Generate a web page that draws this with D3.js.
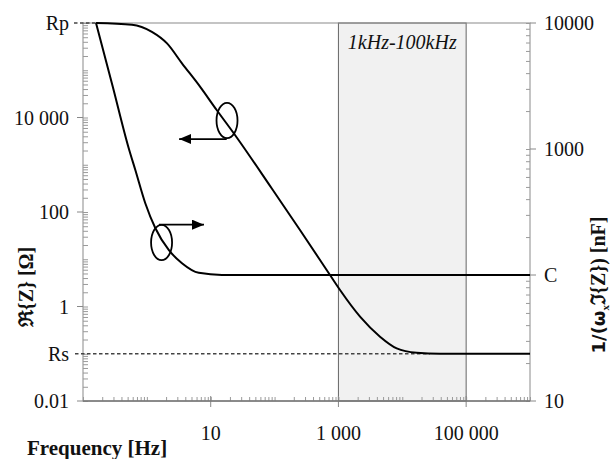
<!DOCTYPE html>
<html>
<head>
<meta charset="utf-8">
<script src="https://cdn.jsdelivr.net/npm/d3@7"></script>
<style>
  body { margin: 0; background: #fff; }
  svg { display: block; }
  text { font-family: "Liberation Serif", "DejaVu Serif", serif; fill: #111; }
</style>
</head>
<body>
<div id="chart"></div>
<script>
// Re{Z} curve (left axis)
const freqRe = [0.16, 0.585, 1.2, 2.07, 3.55, 6.8, 12.4, 24, 90, 250, 738, 1060, 2180, 4480, 8180, 16800, 39000, 1e6];
const realZ  = [1e6, 9.2e5, 6.5e5, 3.7e5, 1.4e5, 4.5e4, 1.44e4, 4270, 318, 41.6, 4.64, 2.23, 0.61, 0.23, 0.13, 0.105, 0.1, 0.1];

// capacitance curve (right axis, nF)
const freqC = [0.16, 0.29, 0.52, 0.66, 0.945, 1.36, 2.2, 3.55, 6.5, 15, 1e6];
const capC  = [10000, 3180, 1014, 681, 371, 235, 158, 124, 104, 100, 100];

// tick labels
const xTicks = [10, 1000, 100000];
const xLabels = ['10', '1 000', '100 000'];
const leftTicks = [1e6, 1e4, 100, 1, 0.1, 0.01];
const leftLabels = ['Rp', '10 000', '100', '1', 'Rs', '0.01'];
const rightTicks = [10000, 1000, 100, 10];
const rightLabels = ['10000', '1000', 'C', '10'];

const Rp = 1e6, Rs = 0.1;
const band = [1000, 100000];

// annotations (data coordinates)
const ellipses = [
  { f: 18, v: 8650 },
  { f: 1.7, v: 22.6 }
];
const arrows = [
  { f0: 17.8, f1: 3.2, v: 3500 },
  { f0: 1.55, f1: 7.85, v: 54 }
];

const W = 611, H = 459;
const L = 83, R = 530, T = 23, B = 401;

const svg = d3.select('#chart').append('svg')
  .attr('width', W).attr('height', H);

const x = d3.scaleLog().domain([0.1, 1e6]).range([L, R]);
const yL = d3.scaleLog().domain([0.01, 1e6]).range([B, T]);
const yR = d3.scaleLog().domain([10, 10000]).range([B, T]);

// 1kHz-100kHz band
svg.append('rect')
  .attr('x', x(band[0])).attr('y', T)
  .attr('width', x(band[1]) - x(band[0])).attr('height', B - T)
  .attr('fill', '#f1f1f1')
  .attr('stroke', '#666').attr('stroke-width', 1);

svg.append('text')
  .attr('x', (x(band[0]) + x(band[1])) / 2).attr('y', 49)
  .attr('text-anchor', 'middle')
  .style('font-style', 'italic')
  .style('font-size', '20px')
  .text('1kHz-100kHz');

// frame
svg.append('rect')
  .attr('x', L).attr('y', T).attr('width', R - L).attr('height', B - T)
  .attr('fill', 'none').attr('stroke', '#8a8a8a').attr('stroke-width', 1);

// minor ticks (inside)
const tickCol = '#9a9a9a';
const xg = svg.append('g').attr('transform', `translate(0,${B})`)
  .call(d3.axisBottom(x).tickValues(x.ticks()).tickSize(-4).tickFormat(''));
xg.select('.domain').remove();
xg.selectAll('line').attr('stroke', tickCol);

const lg = svg.append('g').attr('transform', `translate(${L},0)`)
  .call(d3.axisRight(yL).tickValues(yL.ticks()).tickSize(5).tickFormat(''));
lg.select('.domain').remove();
lg.selectAll('line').attr('stroke', tickCol);

const rg = svg.append('g').attr('transform', `translate(${R},0)`)
  .call(d3.axisLeft(yR).tickValues(yR.ticks()).tickSize(4).tickFormat(''));
rg.select('.domain').remove();
rg.selectAll('line').attr('stroke', tickCol);

// major ticks (outside)
svg.append('g').selectAll('line').data(xTicks).join('line')
  .attr('x1', d => x(d)).attr('x2', d => x(d))
  .attr('y1', B - 5).attr('y2', B + 6)
  .attr('stroke', '#888');
svg.append('g').selectAll('line').data(leftTicks.filter(d => d !== Rp && d !== Rs)).join('line')
  .attr('x1', L - 6).attr('x2', L)
  .attr('y1', d => yL(d)).attr('y2', d => yL(d))
  .attr('stroke', '#888');
svg.append('g').selectAll('line').data(rightTicks).join('line')
  .attr('x1', R).attr('x2', R + 6)
  .attr('y1', d => yR(d)).attr('y2', d => yR(d))
  .attr('stroke', '#888');

// bottom axis line a bit darker
svg.append('line')
  .attr('x1', L).attr('x2', R).attr('y1', B).attr('y2', B)
  .attr('stroke', '#777').attr('stroke-width', 1.4);

// tick labels
svg.append('g').selectAll('text').data(xTicks).join('text')
  .attr('x', d => x(d)).attr('y', 440)
  .attr('text-anchor', 'middle')
  .style('font-size', '20px')
  .text((d, i) => xLabels[i]);

svg.append('g').selectAll('text').data(leftTicks).join('text')
  .attr('x', 69).attr('y', d => yL(d)).attr('dy', '0.35em')
  .attr('text-anchor', 'end')
  .style('font-size', '20px')
  .text((d, i) => leftLabels[i]);

svg.append('g').selectAll('text').data(rightTicks).join('text')
  .attr('x', 544).attr('y', d => yR(d)).attr('dy', '0.35em')
  .style('font-size', '20px')
  .text((d, i) => rightLabels[i]);

// Rp / Rs dashed guides
svg.append('line')
  .attr('x1', 74).attr('x2', x(freqRe[0]))
  .attr('y1', yL(Rp)).attr('y2', yL(Rp))
  .attr('stroke', '#444').attr('stroke-width', 1.3).attr('stroke-dasharray', '3.5,2.5');
svg.append('line')
  .attr('x1', 75).attr('x2', x(27000))
  .attr('y1', yL(Rs)).attr('y2', yL(Rs))
  .attr('stroke', '#444').attr('stroke-width', 1.3).attr('stroke-dasharray', '3.5,2.5');

// curves
const lineRe = d3.line().x(d => x(d[0])).y(d => yL(d[1])).curve(d3.curveMonotoneX);
const lineC = d3.line().x(d => x(d[0])).y(d => yR(d[1])).curve(d3.curveMonotoneX);

svg.append('path')
  .attr('d', lineRe(d3.zip(freqRe, realZ)))
  .attr('fill', 'none').attr('stroke', '#000').attr('stroke-width', 2);
svg.append('path')
  .attr('d', lineC(d3.zip(freqC, capC)))
  .attr('fill', 'none').attr('stroke', '#000').attr('stroke-width', 2);

// ellipses + arrows
svg.append('defs').append('marker')
  .attr('id', 'head')
  .attr('viewBox', '0 0 12 10')
  .attr('refX', 12).attr('refY', 5)
  .attr('markerWidth', 12).attr('markerHeight', 10)
  .attr('markerUnits', 'userSpaceOnUse')
  .attr('orient', 'auto')
  .append('path').attr('d', 'M0,0L12,5L0,10Z').attr('fill', '#000');

svg.append('g').selectAll('ellipse').data(ellipses).join('ellipse')
  .attr('cx', d => x(d.f)).attr('cy', d => yL(d.v))
  .attr('rx', 10.5).attr('ry', 17.6)
  .attr('fill', 'none').attr('stroke', '#000').attr('stroke-width', 1.8);

svg.append('g').selectAll('line').data(arrows).join('line')
  .attr('x1', d => x(d.f0)).attr('x2', d => x(d.f1))
  .attr('y1', d => yL(d.v)).attr('y2', d => yL(d.v))
  .attr('stroke', '#000').attr('stroke-width', 1.8)
  .attr('marker-end', 'url(#head)');

// axis titles
svg.append('text')
  .attr('transform', 'translate(33,287) rotate(-90)')
  .attr('text-anchor', 'middle')
  .style('font-size', '20px').style('font-weight', 'bold')
  .text('ℜ{Z} [Ω]');

const rt = svg.append('text')
  .attr('transform', 'translate(605,285) rotate(-90)')
  .attr('text-anchor', 'middle')
  .style('font-size', '20px').style('font-weight', 'bold');
rt.append('tspan').style('font-family', '"DejaVu Sans", sans-serif').style('font-size', '18px').text('1/(ω');
rt.append('tspan').attr('dy', 4).style('font-size', '11px').text('x');
rt.append('tspan').attr('dy', -4).text('ℑ{Z}) [nF]');

svg.append('text')
  .attr('x', 27).attr('y', 455)
  .style('font-size', '21px').style('font-weight', 'bold')
  .text('Frequency [Hz]');
</script>
</body>
</html>
